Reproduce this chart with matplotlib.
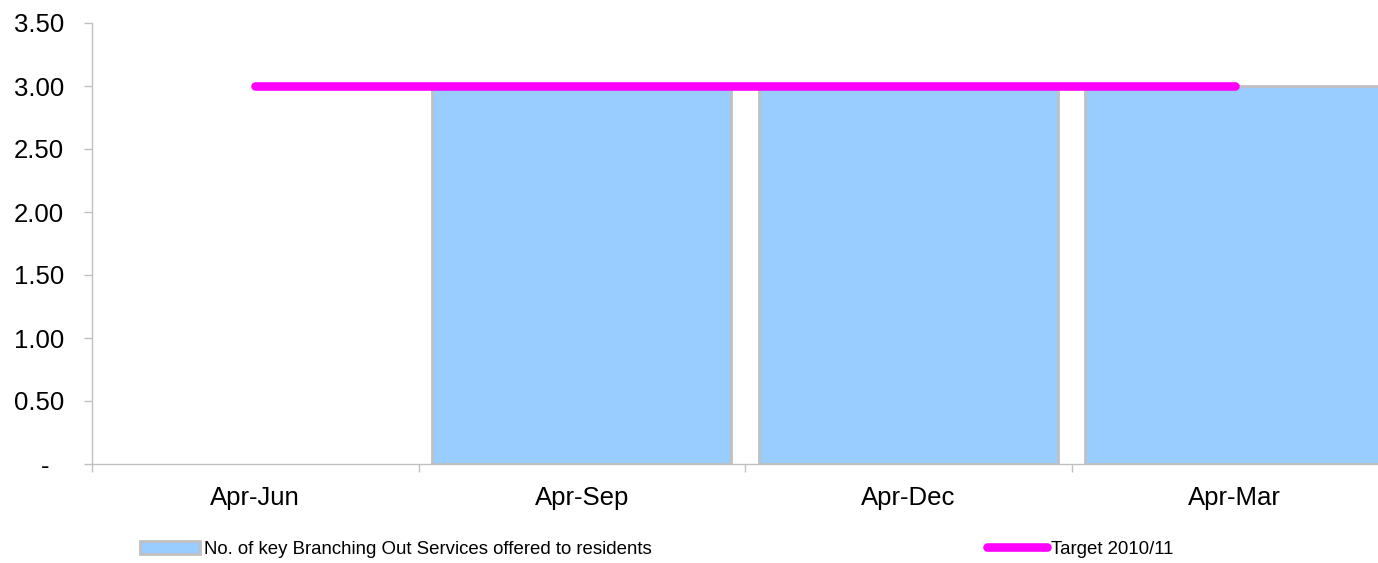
import numpy as np
import matplotlib
matplotlib.use("Agg")
import matplotlib.pyplot as plt
from matplotlib.ticker import FuncFormatter, FixedLocator

plt.rcParams["font.family"] = ["Liberation Sans", "DejaVu Sans"]

# Quarterly cumulative periods
periods = ["Apr-Jun", "Apr-Sep", "Apr-Dec", "Apr-Mar"]
services = [np.nan, 3.0, 3.0, 3.0]
target = [3.0, 3.0, 3.0, 3.0]

BAR_LABEL = "No. of key Branching Out Services offered to residents"
LINE_LABEL = "Target 2010/11"

fig = plt.figure(figsize=(13.78, 5.63), dpi=100)
# axes run slightly past the right edge so the last bar is clipped
ax = fig.add_axes([92 / 1378, 99 / 563, 1306 / 1378, 441 / 563])

x = np.arange(len(periods))
vals = np.array(services, dtype=float)
ok = np.isfinite(vals)
bars = ax.bar(x[ok], vals[ok], width=0.916, color="#99CCFF",
              edgecolor="#C0C0C0", linewidth=2.0, zorder=2, label=BAR_LABEL)
line, = ax.plot(x, target, color="#FF00FF", linewidth=6.2,
                solid_capstyle="round", zorder=3, label=LINE_LABEL)

ax.set_xlim(-0.5, len(periods) - 0.5)
ax.set_ylim(0, 3.5)
ax.set_yticks(np.arange(0, 3.51, 0.5))
ax.yaxis.set_major_formatter(
    FuncFormatter(lambda v, _: "-  " if abs(v) < 1e-9 else f"{v:.2f}"))

ax.set_xticks(x)
ax.set_xticklabels(periods)
ax.xaxis.set_minor_locator(FixedLocator(np.arange(-0.5, len(periods), 1.0)))

for side in ("top", "right"):
    ax.spines[side].set_visible(False)
for side in ("left", "bottom"):
    ax.spines[side].set_color("#C0C0C0")
    ax.spines[side].set_linewidth(1.0)

ax.tick_params(axis="y", length=6, width=1.0, color="#C0C0C0",
               labelsize=18.5, pad=14)
ax.tick_params(axis="x", which="major", length=0, labelsize=18.5, pad=16)
ax.tick_params(axis="x", which="minor", length=6, width=1.0, color="#C0C0C0")

fig.legend(handles=[bars, line], labels=[BAR_LABEL, LINE_LABEL],
           loc="lower left", bbox_to_anchor=(140 / 1378, 5 / 563),
           ncol=2, frameon=False, fontsize=13.4, handlelength=3.2,
           handletextpad=0.25, columnspacing=18.0, borderpad=0,
           borderaxespad=0)

fig.savefig("out.png", dpi=100)
